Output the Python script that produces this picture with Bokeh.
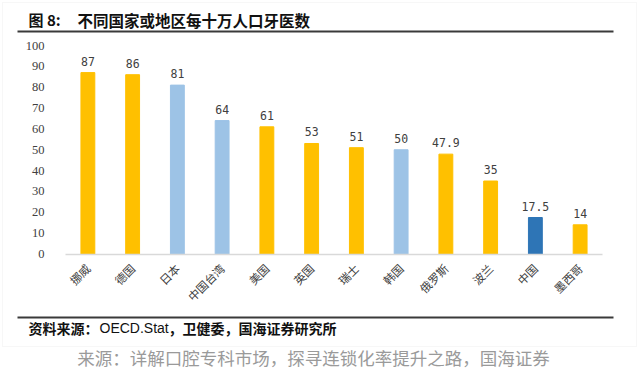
import numpy as np
from bokeh.plotting import figure
from bokeh.models import Range1d, FixedTicker, Label, BoxAnnotation, ColumnDataSource
from bokeh.core.properties import value
from bokeh.embed import file_html
from bokeh.resources import INLINE

# ---- data ----
countries = ["挪威", "德国", "日本", "中国台湾", "美国", "英国", "瑞士", "韩国", "俄罗斯", "波兰", "中国", "墨西哥"]
dentists = [87, 86, 81, 64, 61, 53, 51, 50, 47.9, 35, 17.5, 14]
value_text = ["87", "86", "81", "64", "61", "53", "51", "50", "47.9", "35", "17.5", "14"]
group = ["other", "other", "asia", "asia", "other", "other", "other", "asia", "other", "other", "china", "other"]
y_ticks = [0, 10, 20, 30, 40, 50, 60, 70, 80, 90, 100]
title_fig = "图 8:"
title_text = "不同国家或地区每十万人口牙医数"
note_cn1 = "资料来源："
note_en = "OECD.Stat"
note_cn2 = "，卫健委，国海证券研究所"
caption_text = "来源：详解口腔专科市场，探寻连锁化率提升之路，国海证券"

palette = {"other": "#FFC000", "asia": "#9DC3E6", "china": "#2E75B6"}

CJK = "Noto Sans CJK SC"
W, H = 640, 375

n = len(countries)
xs = np.arange(n) + 0.5
src = ColumnDataSource(dict(x=xs, y=dentists, t=value_text,
                            c=[palette[g] for g in group]))

# plot frame fills the canvas; axes sit at fixed locations inside it
PX_L, PX_R = 65, 602          # canvas x of category range 0..n
PY0, PY100 = 253.5, 45        # canvas y of value 0 and 100
sx = (PX_R - PX_L) / n
sy = (PY0 - PY100) / 100
x_range = Range1d(-PX_L / sx, (W - PX_L) / sx)
y_range = Range1d((PY0 - H) / sy, PY0 / sy)

p = figure(width=W, height=H, output_backend="svg", toolbar_location=None, title=None,
           x_range=x_range, y_range=y_range,
           min_border_left=0, min_border_right=0, min_border_top=0, min_border_bottom=0)
p.outline_line_color = None
p.grid.grid_line_color = None
p.background_fill_color = "white"
p.border_fill_color = "white"

p.vbar(x="x", top="y", width=0.31, color="c", source=src)
p.text(x="x", y="y", text="t", source=src, text_align="center", text_baseline="bottom",
       y_offset=-7, text_font_size="11.5px", text_color="#404040", text_font=value("DejaVu Sans Mono"))

# axes
p.yaxis.fixed_location = 0
p.yaxis.bounds = (0, 100)
p.yaxis.ticker = FixedTicker(ticks=y_ticks)
p.yaxis.axis_line_color = None
p.yaxis.major_tick_line_color = None
p.yaxis.minor_tick_line_color = None
p.yaxis.major_label_standoff = 15
p.yaxis.major_label_text_font_size = "12.5px"
p.yaxis.major_label_text_color = "#404040"
p.yaxis.major_label_text_font = "Liberation Serif"

p.xaxis.fixed_location = 0
p.xaxis.bounds = (0, n)
p.xaxis.ticker = FixedTicker(ticks=list(xs))
p.xaxis.major_label_overrides = {float(x): c for x, c in zip(xs, countries)}
p.xaxis.major_label_orientation = np.pi / 4
p.xaxis.axis_line_color = "#D9D9D9"
p.xaxis.axis_line_width = 1.5
p.xaxis.major_tick_line_color = None
p.xaxis.minor_tick_line_color = None
p.xaxis.major_label_standoff = 6
p.xaxis.major_label_text_font_size = "11.5px"
p.xaxis.major_label_text_color = "#404040"
p.xaxis.major_label_text_font = CJK

# panel border and rules (canvas pixels)
def cbox(l, r, t, b, **kw):
    return BoxAnnotation(left=l, right=r, top=t, bottom=b,
                         left_units="canvas", right_units="canvas",
                         top_units="canvas", bottom_units="canvas", **kw)

p.add_layout(cbox(2, 636, 2, 346, fill_color=None, line_color="#E3E3E3", line_width=1))
p.add_layout(cbox(17, 613, 30, 32, fill_color="#3A3A3A", fill_alpha=1, line_color=None))
p.add_layout(cbox(17, 613, 316, 318, fill_color="#3A3A3A", fill_alpha=1, line_color=None))

def clabel(x, y, text, **kw):
    return Label(x=x, y=y, x_units="canvas", y_units="canvas", text=text,
                 text_baseline="middle", **kw)

p.add_layout(clabel(28, 19, title_fig, text_font=CJK, text_font_style="bold",
                    text_font_size="15px", text_color="#111111"))
p.add_layout(clabel(77, 19, title_text, text_font=CJK, text_font_style="bold",
                    text_font_size="15.5px", text_color="#111111"))
p.add_layout(clabel(28, 327, note_cn1, text_font=CJK, text_font_style="bold",
                    text_font_size="14px", text_color="#111111"))
p.add_layout(clabel(99, 327, note_en, text_font="Liberation Sans",
                    text_font_size="14px", text_color="#111111"))
p.add_layout(clabel(168, 327, note_cn2, text_font=CJK, text_font_style="bold",
                    text_font_size="14px", text_color="#111111"))
p.add_layout(clabel(313, 357, caption_text, text_font=CJK,
                    text_font_size="17.5px", text_color="#9A9A9A", text_align="center"))

open("out.html", "w").write(file_html(p, INLINE))
